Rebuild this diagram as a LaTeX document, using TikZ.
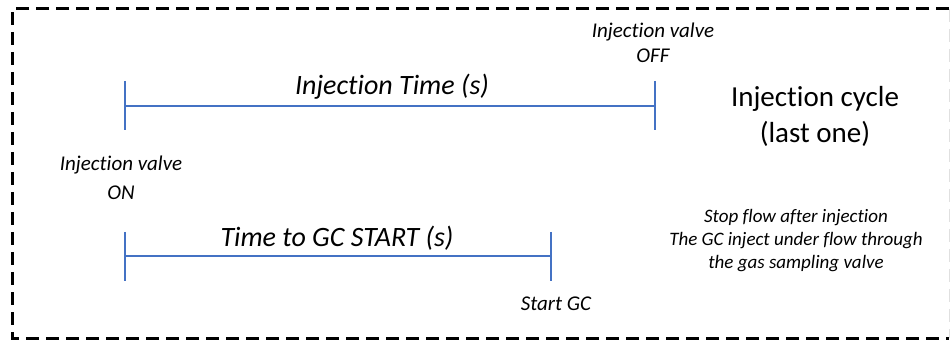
\documentclass[tikz,border=0pt]{standalone}
\usepackage{fontspec}
\setmainfont[Ligatures=NoCommon]{Carlito}
\usetikzlibrary{positioning}
\definecolor{tickblue}{RGB}{68,114,196}

\begin{document}
\begin{tikzpicture}[x=1pt, y=-1pt,
    timeline/.style={tickblue, line width=1.3pt},
    bigtext/.style={font=\fontsize{28}{32}\selectfont\itshape},
    smalltext/.style={font=\fontsize{21}{25}\selectfont\itshape, align=center},
  ]
  \useasboundingbox (0,0) rectangle (950,347);

  %%%%% FRAME %%%%%
  \draw[line width=3pt, dash pattern=on 13pt off 7pt] (949,9) -- (12,9) -- (12,338) -- (949,338);
  \draw[black!12, line width=1pt, dash pattern=on 13pt off 7pt] (949,9) -- (949,338);

  %%%%% FIRST TIMELINE %%%%%
  \coordinate (injon) at (125,106);
  \coordinate (injoff) at (655,106);
  \draw[timeline] (injon) -- (injoff);
  \draw[timeline] ([yshift=25pt]injon) -- ([yshift=-24pt]injon);
  \draw[timeline] ([yshift=25pt]injoff) -- ([yshift=-24pt]injoff);

  \node[bigtext] (injtime) at (392,87) {Injection Time (s)};
  \node[smalltext] (valveoff) at (653,43) {Injection valve\\OFF};
  \node[font=\fontsize{29}{36}\selectfont, align=center] (cycle) at (815,116) {Injection cycle\\(last one)};
  \node[smalltext] (valveon) at (121,178) {Injection valve\\[4pt]ON};

  %%%%% SECOND TIMELINE %%%%%
  \coordinate (gcfrom) at (125,256);
  \coordinate (gcstart) at (551,256);
  \draw[timeline] (gcfrom) -- (gcstart);
  \draw[timeline] ([yshift=24pt]gcfrom) -- ([yshift=-25pt]gcfrom);
  \draw[timeline] ([yshift=24pt]gcstart) -- ([yshift=-25pt]gcstart);

  \node[bigtext] (gctime) at (337,238) {Time to GC START (s)};
  \node[smalltext] (startgc) at (556,304) {Start GC};
  \node[font=\fontsize{19}{23}\selectfont\itshape, align=center] (stopflow) at (796,241)
    {Stop flow after injection\\The GC inject under flow through\\the gas sampling valve};
\end{tikzpicture}
\end{document}
